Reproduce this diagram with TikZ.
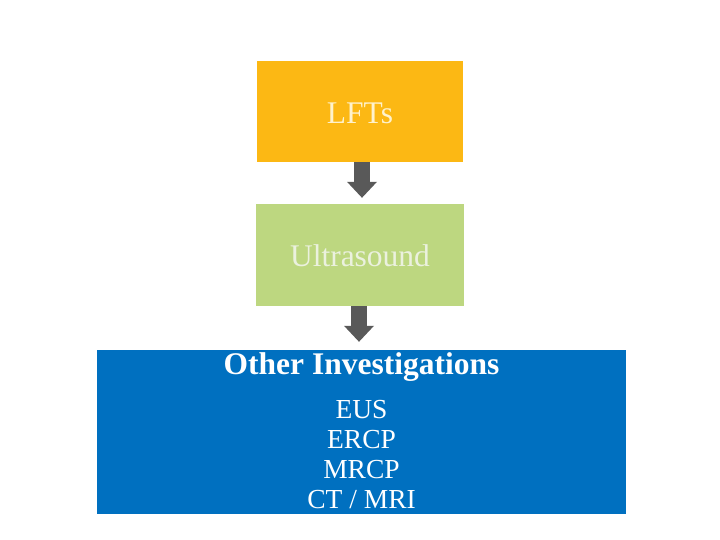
\documentclass[tikz,border=0pt]{standalone}
\usepackage{fontspec}
\setmainfont{Liberation Serif}
\usetikzlibrary{arrows.meta}

\definecolor{lftorange}{HTML}{FCB814}
\definecolor{usgreen}{HTML}{BDD780}
\definecolor{invblue}{HTML}{0070C0}
\definecolor{arrowgray}{HTML}{595959}
\definecolor{lfttext}{HTML}{FFF2CC}
\definecolor{ustext}{HTML}{EBF1DE}

\tikzset{
	stepbox/.style={rectangle, inner sep=0pt, text height=24pt, text depth=0pt,
		font=\fontsize{31.5}{36}\selectfont},
	downarrow/.style={arrowgray, line width=16pt,
		-{Triangle[width=30pt,length=16pt,line width=0pt]}},
	itemtext/.style={anchor=base, white, inner sep=0pt, font=\fontsize{27.5}{30}\selectfont}
}

\begin{document}
\begin{tikzpicture}[x=1pt,y=1pt]
				\useasboundingbox (0,0) rectangle (720,540);
				
				% LFTs
				\node[stepbox, fill=lftorange, text=lfttext,
					minimum width=206pt, minimum height=101pt] at (360,428.5) (lft){LFTs};
				
				% Ultrasound
				\node[stepbox, fill=usgreen, text=ustext,
					minimum width=208pt, minimum height=102pt] at (360,285) (us){Ultrasound};
				
				% Other investigations
				\node[rectangle, fill=invblue, inner sep=0pt,
					minimum width=529pt, minimum height=164pt] at (361.5,108) (other){};
				\node[anchor=base, white, inner sep=0pt, font=\fontsize{31.5}{36}\selectfont\bfseries]
					at ([yshift=-25pt]other.north) (othertitle){Other Investigations};
				\foreach \txt [count=\i] in {EUS,ERCP,MRCP,CT / MRI}
				\node[itemtext] at ([yshift={-69pt-(\i-1)*30pt}]other.north) (item\i){\txt};
				
				% arrows
				\draw[downarrow, shorten >=6pt] ([xshift=2pt]lft.south) -- ([xshift=2pt]us.north);
				\draw[downarrow, shorten >=8pt] ([xshift=-1pt]us.south) -- ([xshift=-1pt]other.north -| us.south);
			\end{tikzpicture}
\end{document}
